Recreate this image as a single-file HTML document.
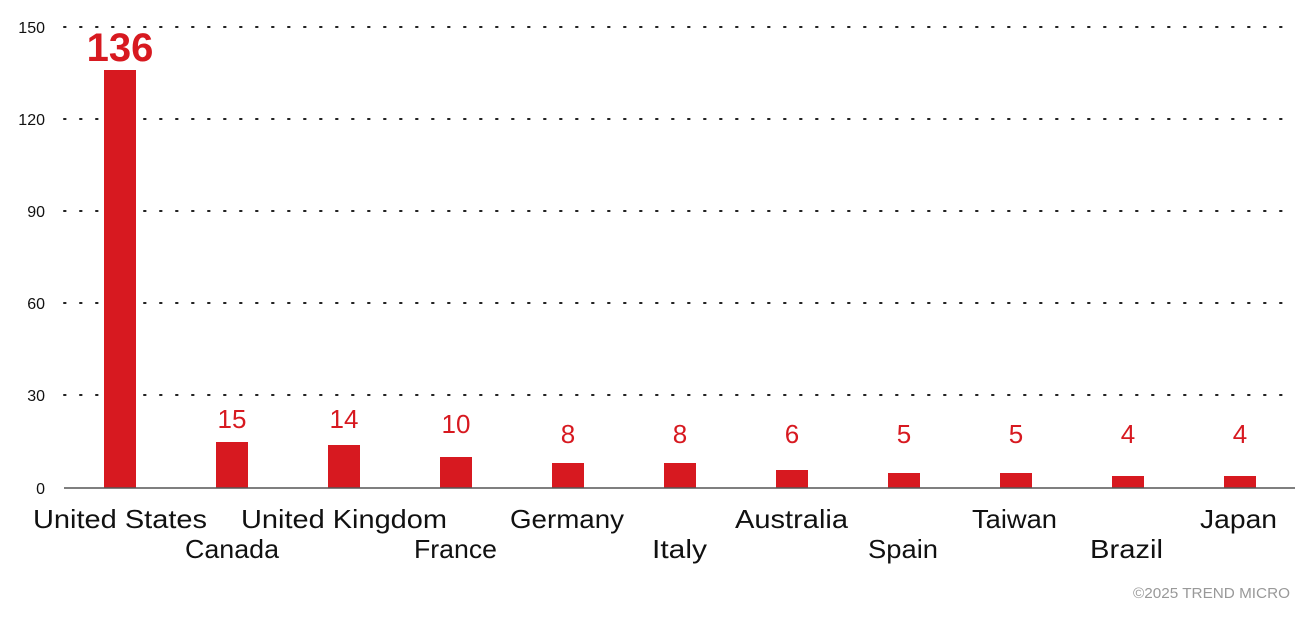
<!DOCTYPE html>
<html><head><meta charset="utf-8"><style>
html,body{margin:0;padding:0;background:#fff;}
svg{display:block;font-family:"Liberation Sans",sans-serif;}
</style></head><body>
<svg width="1310" height="618" viewBox="0 0 1310 618" xmlns="http://www.w3.org/2000/svg">
<g stroke="#222" stroke-width="2" stroke-dasharray="1.6 14.4" stroke-linecap="round">
<line x1="64" y1="27" x2="1295" y2="27"/>
<line x1="64" y1="119" x2="1295" y2="119"/>
<line x1="64" y1="211" x2="1295" y2="211"/>
<line x1="64" y1="303" x2="1295" y2="303"/>
<line x1="64" y1="395" x2="1295" y2="395"/>
</g>
<g font-size="16" fill="#111" text-anchor="end">
<text x="45" y="33">150</text>
<text x="45" y="125">120</text>
<text x="45" y="217">90</text>
<text x="45" y="309">60</text>
<text x="45" y="401">30</text>
<text x="45" y="494">0</text>
</g>
<g fill="#d71920">
<rect x="104" y="70" width="32" height="418"/>
<rect x="216" y="442" width="32" height="46"/>
<rect x="328" y="445" width="32" height="43"/>
<rect x="440" y="457" width="32" height="31"/>
<rect x="552" y="463" width="32" height="25"/>
<rect x="664" y="463" width="32" height="25"/>
<rect x="776" y="470" width="32" height="18"/>
<rect x="888" y="473" width="32" height="15"/>
<rect x="1000" y="473" width="32" height="15"/>
<rect x="1112" y="476" width="32" height="12"/>
<rect x="1224" y="476" width="32" height="12"/>
</g>
<line x1="64" y1="488" x2="1295" y2="488" stroke="#555" stroke-width="1.5"/>
<g fill="#d71920" text-anchor="middle" font-size="26">
<text x="120" y="61" font-size="40" font-weight="bold">136</text>
<text x="232" y="428">15</text>
<text x="344" y="428">14</text>
<text x="456" y="433">10</text>
<text x="568" y="443">8</text>
<text x="680" y="443">8</text>
<text x="792" y="443">6</text>
<text x="904" y="443">5</text>
<text x="1016" y="443">5</text>
<text x="1128" y="443">4</text>
<text x="1240" y="443">4</text>
</g>
<g fill="#111" font-size="26" lengthAdjust="spacingAndGlyphs">
<text x="33" y="528" textLength="174" lengthAdjust="spacingAndGlyphs">United States</text>
<text x="185" y="558" textLength="94" lengthAdjust="spacingAndGlyphs">Canada</text>
<text x="241" y="528" textLength="206" lengthAdjust="spacingAndGlyphs">United Kingdom</text>
<text x="414" y="558" textLength="83" lengthAdjust="spacingAndGlyphs">France</text>
<text x="510" y="528" textLength="114" lengthAdjust="spacingAndGlyphs">Germany</text>
<text x="652" y="558" textLength="55" lengthAdjust="spacingAndGlyphs">Italy</text>
<text x="735" y="528" textLength="113" lengthAdjust="spacingAndGlyphs">Australia</text>
<text x="868" y="558" textLength="70" lengthAdjust="spacingAndGlyphs">Spain</text>
<text x="972" y="528" textLength="85" lengthAdjust="spacingAndGlyphs">Taiwan</text>
<text x="1090" y="558" textLength="73" lengthAdjust="spacingAndGlyphs">Brazil</text>
<text x="1200" y="528" textLength="77" lengthAdjust="spacingAndGlyphs">Japan</text>
</g>
<text x="1133" y="598" font-size="15" fill="#999" textLength="157" lengthAdjust="spacingAndGlyphs">©2025 TREND MICRO</text>
</svg>
</body></html>
